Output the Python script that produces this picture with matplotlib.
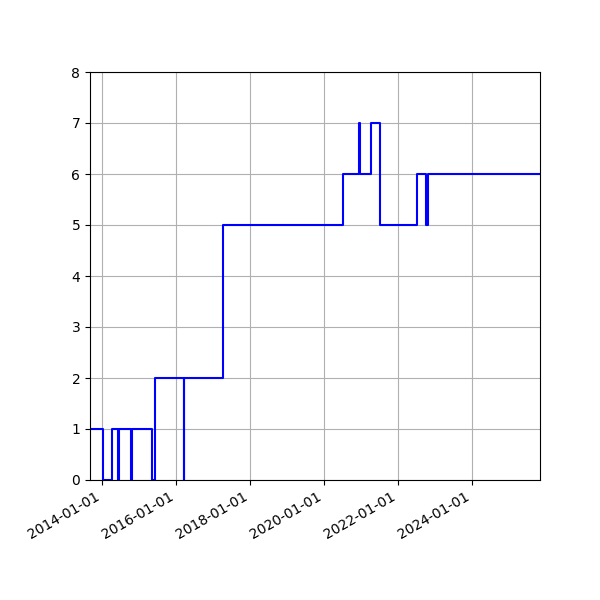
import numpy as np
import pandas as pd
import matplotlib
matplotlib.use('Agg')
from matplotlib import pyplot as plt
import matplotlib.dates as mdates

# change dates and the value that holds from that date on
dates = ['2013-09-07', '2014-01-16', '2014-04-15', '2014-06-10', '2014-06-22',
         '2014-10-14', '2014-10-22', '2015-05-10', '2015-06-15', '2016-03-22',
         '2016-03-26', '2017-04-12', '2020-07-13', '2020-12-16', '2020-12-26',
         '2021-04-10', '2021-07-04', '2022-07-08', '2022-10-08', '2022-10-20',
         '2025-11-03']
values = [1, 0, 1, 0, 1,
          0, 1, 0, 2, 0,
          2, 5, 6, 7, 6,
          7, 5, 6, 5, 6,
          6]

x = pd.to_datetime(dates)

fig, ax = plt.subplots(figsize=(6, 6), dpi=100)
ax.step(x, values, where='post', color='blue')
ax.set_xlim(x[0], x[-1])
ax.set_ylim(0, 8)
ax.xaxis.set_major_locator(mdates.YearLocator(2))
ax.xaxis.set_major_formatter(mdates.DateFormatter('%Y-%m-%d'))
ax.grid(True)
fig.autofmt_xdate()
fig.subplots_adjust(left=0.15, right=0.9, top=0.88, bottom=0.2)
plt.savefig('out.png')
